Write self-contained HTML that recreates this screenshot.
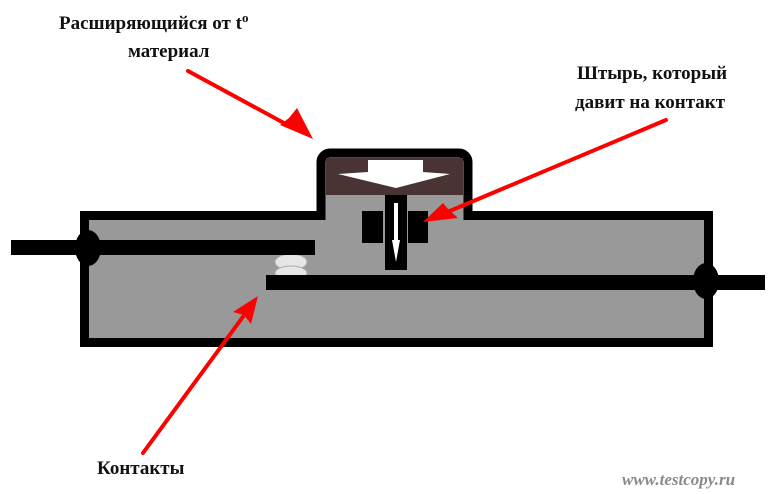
<!DOCTYPE html>
<html><head><meta charset="utf-8"><style>
html,body{margin:0;padding:0;background:#fff;}
svg{display:block}
text{font-family:"Liberation Serif",serif;font-weight:bold;font-size:19px;fill:#111}
</style></head><body>
<svg width="777" height="494" viewBox="0 0 777 494" xmlns="http://www.w3.org/2000/svg">
<!-- upper box -->
<rect x="321" y="153" width="147" height="70" rx="9" fill="#999" stroke="#000" stroke-width="9"/>
<rect x="326" y="158" width="137" height="37" fill="#4a3333"/>
<polygon points="368,160 423,160 423,172 450,174 396,188 338,174 368,172" fill="#fff"/>
<!-- main box -->
<rect x="84.5" y="215.5" width="624" height="127" fill="#999" stroke="#000" stroke-width="9"/>
<rect x="325.5" y="209" width="138" height="13" fill="#999"/>
<!-- shoulders and pin -->
<rect x="362" y="211" width="21" height="32" fill="#000"/>
<rect x="408" y="211" width="20" height="32" fill="#000"/>
<rect x="385" y="195" width="22" height="75" fill="#000"/>
<polygon points="394,203 398,203 398,240 400,240 396,262 392,240 394,240" fill="#fff"/>
<!-- contacts -->
<ellipse cx="291" cy="262" rx="16" ry="8" fill="#e6e6e6" stroke="#aaa" stroke-width="1"/>
<ellipse cx="291" cy="273" rx="16" ry="7" fill="#e6e6e6" stroke="#aaa" stroke-width="1"/>
<rect x="11" y="240" width="304" height="15" fill="#000"/>
<rect x="266" y="275" width="499" height="15" fill="#000"/>
<ellipse cx="88" cy="248" rx="13" ry="18" fill="#000"/>
<ellipse cx="706" cy="281" rx="13" ry="18" fill="#000"/>
<!-- arrows -->
<g stroke="#f00" stroke-width="4" fill="#f00" stroke-linecap="round">
<line x1="188" y1="71" x2="295" y2="129"/>
<polygon stroke="none" points="313,139 280,125 289,118 297,108"/>
<line x1="666" y1="120" x2="445" y2="213"/>
<polygon stroke="none" points="423,222 443,203 448,209 458,218"/>
<line x1="143" y1="453" x2="245" y2="314"/>
<polygon stroke="none" points="258,296 251,324 244,315 233,312"/>
</g>
<!-- labels -->
<text x="59" y="29">Расширяющийся от t<tspan font-size="13" dy="-7">o</tspan></text>
<text x="128" y="57">материал</text>
<text x="577" y="79">Штырь, который</text>
<text x="575" y="108">давит на контакт</text>
<text x="97" y="474">Контакты</text>
<text x="622" y="485" style="font-style:italic;font-weight:bold;font-size:17px;fill:#8a8a8a;font-family:'Liberation Serif',serif">www.testcopy.ru</text>
</svg>
</body></html>
